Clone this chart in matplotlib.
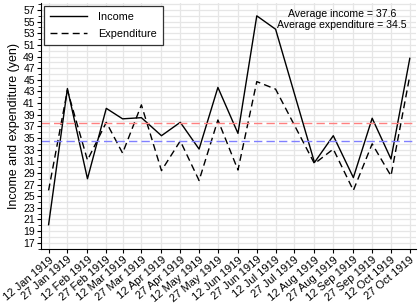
import numpy as np
import pandas as pd
import matplotlib
matplotlib.use('Agg')
import matplotlib.pyplot as plt
import matplotlib.dates as mdates
from matplotlib.ticker import MultipleLocator, FixedLocator

dates = ['1919-01-12', '1919-01-27', '1919-02-12', '1919-02-27', '1919-03-12',
         '1919-03-27', '1919-04-12', '1919-04-27', '1919-05-12', '1919-05-27',
         '1919-06-12', '1919-06-27', '1919-07-12', '1919-08-12', '1919-08-27',
         '1919-09-12', '1919-09-27', '1919-10-12', '1919-10-27']
income = [20.1, 43.5, 28.0, 40.1, 38.3, 38.5, 35.4, 37.7, 33.1, 43.7,
          35.8, 56.0, 53.7, 30.8, 35.4, 28.2, 38.4, 31.4, 48.7]
expenditure = [26.0, 43.2, 31.2, 37.7, 32.4, 40.7, 29.4, 34.5, 27.7, 38.1,
               29.5, 44.7, 43.4, 30.6, 33.1, 26.0, 34.0, 28.5, 45.7]
avg_income = 37.6
avg_expenditure = 34.5

tick_dates = pd.to_datetime([f'1919-{m:02d}-{d}' for m in range(1, 11) for d in (12, 27)])
x = pd.to_datetime(dates)

plt.rcParams['font.family'] = ['Liberation Sans', 'DejaVu Sans']
fig, ax = plt.subplots(figsize=(4.19, 3.05), dpi=100)
fig.subplots_adjust(left=0.098, right=0.993, top=0.99, bottom=0.185)

ax.plot(x, income, color='black', lw=1.0, label='Income')
ax.plot(x, expenditure, color='black', lw=1.0, ls=(0, (5, 3)), label='Expenditure')
ax.axhline(avg_income, color='#ff8080', lw=1.0, ls=(0, (6, 3)))
ax.axhline(avg_expenditure, color='#8080ff', lw=1.0, ls=(0, (6, 3)))

ax.set_ylim(16, 58.2)
ax.set_xlim(pd.Timestamp('1919-01-06'), pd.Timestamp('1919-11-01'))
ax.yaxis.set_major_locator(FixedLocator(np.arange(17, 58, 2)))
ax.yaxis.set_minor_locator(MultipleLocator(1))
ax.set_xticks(tick_dates)
ax.xaxis.set_major_formatter(mdates.DateFormatter('%d %b %Y'))
plt.setp(ax.get_xticklabels(), rotation=40, ha='right', rotation_mode='anchor')
ax.tick_params(axis='y', labelsize=7.5, length=3, pad=1.5)
ax.tick_params(axis='x', labelsize=8, length=3, pad=1.5)
ax.tick_params(axis='y', which='minor', length=2)

ax.grid(True, which='both', color='#e6e6e6', lw=0.9)
ax.set_axisbelow(True)
for s in ['top', 'right']:
    ax.spines[s].set_visible(False)
ax.set_ylabel('Income and expenditure (yen)', fontsize=9, labelpad=2)

leg = ax.legend(loc='upper left', fontsize=7.8, fancybox=False, framealpha=1,
                edgecolor='#333333', handlelength=3.4, handletextpad=1.0,
                borderaxespad=0.3, borderpad=0.55, labelspacing=0.6)
leg.get_frame().set_linewidth(0.9)

ax.text(0.802, 0.975, f'Average income = {avg_income}\nAverage expenditure = {avg_expenditure}',
        transform=ax.transAxes, ha='center', va='top', fontsize=7.6, multialignment='center',
        linespacing=1.1)

plt.savefig('out.png', dpi=100)
